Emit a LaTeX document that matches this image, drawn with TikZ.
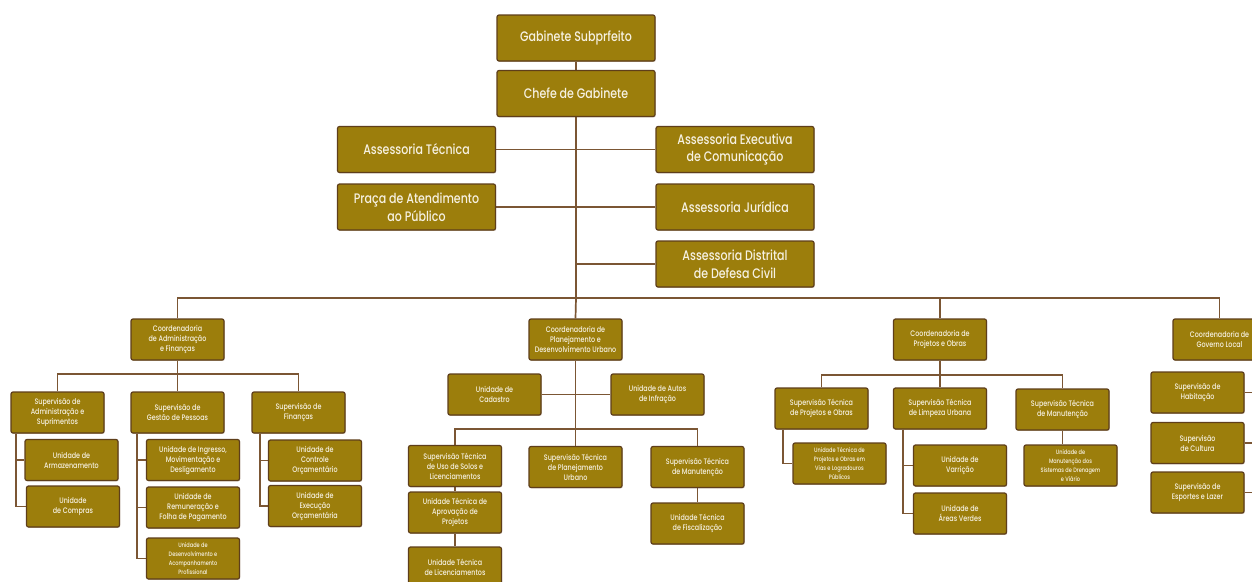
\documentclass[tikz,border=0pt]{standalone}
\usepackage{fontspec}
\setmainfont{Poppins Medium}[FakeStretch=0.8]
\usetikzlibrary{shadows,backgrounds}
\definecolor{gold}{HTML}{9C7E0C}
\definecolor{bord}{HTML}{5E3E1A}
\definecolor{wire}{HTML}{7B5634}
\definecolor{cream}{HTML}{F6F1E2}
\begin{document}
\begin{tikzpicture}[x=1pt,y=-1pt,
  bx/.style={draw=bord, fill=gold, line width=1.2pt, rounded corners=2pt, text=cream,
    align=center, inner sep=1pt,
    drop shadow={shadow xshift=0.7pt, shadow yshift=-0.9pt, opacity=0.35, fill=bord}},
  big/.style={bx, minimum width=158pt, minimum height=46pt, font=\fontsize{13.8}{17.5}\selectfont},
  sm/.style={bx, minimum width=93pt, minimum height=41pt, font=\fontsize{8}{10}\selectfont},
  tiny/.style={sm, font=\fontsize{6.3}{9}\selectfont},
  wr/.style={draw=wire, line width=1.7pt}]
\useasboundingbox (0,0) rectangle (1252,581);

% top
\node[big] (gab) at (576,38) {Gabinete Subprfeito};
\node[big] (chefe) at (576,93.5) {Chefe de Gabinete};
\node[big] (at) at (416.5,149.5) {Assessoria Técnica};
\node[big] (aec) at (735,149.5) {Assessoria Executiva\\de Comunicação};
\node[big] (praca) at (416.5,207) {Praça de Atendimento\\ao Público};
\node[big] (jur) at (735,207) {Assessoria Jurídica};
\node[big] (adc) at (735,264) {Assessoria Distrital\\de Defesa Civil};

% coordinators
\node[sm] (caf) at (177.5,339.5) {Coordenadoria\\de Administração\\e Finanças};
\node[sm] (cpdu) at (575.5,339.5) {Coordenadoria de\\Planejamento e\\Desenvolvimento Urbano};
\node[sm] (cpo) at (940,339.5) {Coordenadoria de\\Projetos e Obras};
\node[sm] (cgl) at (1219.5,339.5) {Coordenadoria de\\Governo Local};

% CAF
\node[sm] (sas) at (57.5,412.5) {Supervisão de\\Administração e\\Suprimentos};
\node[sm] (sgp) at (177.5,412.5) {Supervisão de\\Gestão de Pessoas};
\node[sm] (sf) at (298.5,412.5) {Supervisão de\\Finanças};
\node[sm] (uarm) at (71.5,460) {Unidade de\\Armazenamento};
\node[sm] (ucomp) at (73,506.5) {Unidade\\de Compras};
\node[sm] (uing) at (193,460) {Unidade de Ingresso,\\Movimentação e\\Desligamento};
\node[sm] (urem) at (193,507.5) {Unidade de\\Remuneração e\\Folha de Pagamento};
\node[tiny] (udes) at (193,558.5) {Unidade de\\Desenvolvimento e\\Acompanhamento\\Profissional};
\node[sm] (uctrl) at (315,460.5) {Unidade de\\Controle\\Orçamentário};
\node[sm] (uexec) at (315,506) {Unidade de\\Execução\\Orçamentária};

% CPDU
\node[sm] (ucad) at (494.5,394.5) {Unidade de\\Cadastro};
\node[sm] (uautos) at (657.5,394.5) {Unidade de Autos\\de Infração};
\node[sm] (stus) at (455,466) {Supervisão Técnica\\de Uso de Solos e\\Licenciamentos};
\node[sm] (stpu) at (575.5,467) {Supervisão Técnica\\de Planejamento\\Urbano};
\node[sm] (stm) at (697.5,467) {Supervisão Técnica\\de Manutenção};
\node[sm] (utap) at (455,512.5) {Unidade Técnica de\\Aprovação de\\Projetos};
\node[sm] (utl) at (455,567.5) {Unidade Técnica\\de Licenciamentos};
\node[sm] (utf) at (697.5,523.5) {Unidade Técnica\\de Fiscalização};

% CPO
\node[sm] (stpo) at (821.5,408.5) {Supervisão Técnica\\de Projetos e Obras};
\node[sm] (stlu) at (940,408.5) {Supervisão Técnica\\de Limpeza Urbana};
\node[sm] (stman) at (1062.5,409.5) {Supervisão Técnica\\de Manutenção};
\node[tiny] (utpov) at (839.5,463.5) {Unidade Técnica de\\Projetos e Obras em\\Vias e Logradouros\\Públicos};
\node[sm] (uvar) at (960,465.5) {Unidade de\\Varrição};
\node[sm] (uav) at (960,513.5) {Unidade de\\Áreas Verdes};
\node[tiny] (umsd) at (1070.5,465.5) {Unidade de\\Manutenção dos\\Sistemas de Drenagem\\e Viário};

% CGL
\node[sm] (sh) at (1197.5,392.5) {Supervisão de\\Habitação};
\node[sm] (sc) at (1197.5,443) {Supervisão\\de Cultura};
\node[sm] (sel) at (1197.5,492.5) {Supervisão de\\Esportes e Lazer};

% connectors
\coordinate (bus) at (576,298);
\coordinate (glv) at (1262,360);
\begin{scope}[on background layer]
\fill[white] (0,0) rectangle (1252,581);
\draw[wr] (gab.south) -- (chefe.north);
\draw[wr] (chefe.south) -- (bus) -- (cpdu.north);
\draw[wr] (at.east) -- (aec.west);
\draw[wr] (praca.east) -- (jur.west);
\draw[wr] (adc.west) -- (adc.west -| bus);
\draw[wr] (caf.north) |- (bus) -| (cgl.north);
\draw[wr] (cpo.north) -- (cpo.north |- bus);

\draw[wr] (sas.north) |- (177.5,374) -| (sf.north);
\draw[wr] (caf.south) -- (sgp.north);
\draw[wr] (sas.south -| 16,0) |- (uarm.west);
\draw[wr] (sas.south -| 16,0) |- (ucomp.west);
\draw[wr] (sgp.south -| 137,0) |- (uing.west);
\draw[wr] (sgp.south -| 137,0) |- (urem.west);
\draw[wr] (sgp.south -| 137,0) |- (udes.west);
\draw[wr] (sf.south -| 260,0) |- (uctrl.west);
\draw[wr] (sf.south -| 260,0) |- (uexec.west);

\draw[wr] (cpdu.south) -- (stpu.north);
\draw[wr] (ucad.east) -- (uautos.west);
\draw[wr] (stus.north) |- (575.5,429) -| (stm.north);
\draw[wr] (stus.south) -- (utap.north);
\draw[wr] (utap.south) -- (utl.north);
\draw[wr] (stm.south) -- (utf.north);

\draw[wr] (cpo.south) -- (stlu.north);
\draw[wr] (stpo.north) |- (940,375) -| (stman.north);
\draw[wr] (stpo.south -| 783,0) |- (utpov.west);
\draw[wr] (stlu.south -| 903,0) |- (uvar.west);
\draw[wr] (stlu.south -| 903,0) |- (uav.west);
\draw[wr] (stman.south) -- (stman.south |- umsd.north);

\draw[wr] (cgl.south -| glv) -- (glv |- sel.east);
\draw[wr] (sh.east) -- (sh.east -| glv);
\draw[wr] (sc.east) -- (sc.east -| glv);
\draw[wr] (sel.east) -- (sel.east -| glv);
\end{scope}
\end{tikzpicture}
\end{document}
